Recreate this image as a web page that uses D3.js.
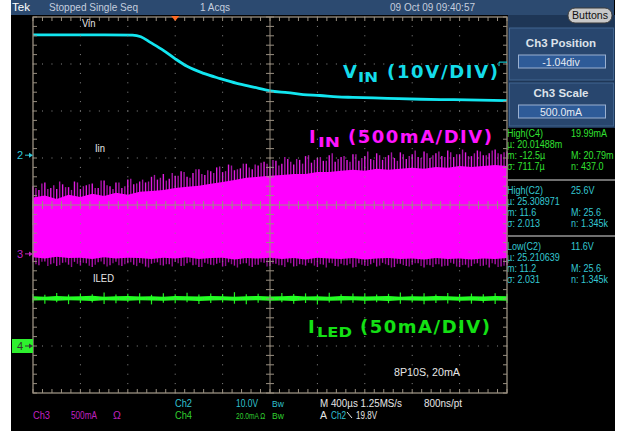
<!DOCTYPE html>
<html>
<head>
<meta charset="utf-8">
<script src="https://cdn.jsdelivr.net/npm/d3@7"></script>
<style>
  html, body { margin: 0; padding: 0; background: #fff; }
  svg { display: block; }
  text { font-family: "Liberation Sans", Arial, sans-serif; }
  .big { font-family: "DejaVu Sans", Verdana, sans-serif; font-weight: bold; }
</style>
</head>
<body>
<svg id="scope" width="622" height="432"></svg>
<script>
// Scope capture: Vin step down, Iin switching band, ILED
// time in ms (trigger at 0), Vin in V, currents in mA

var vinT = [-1.2, -0.6, -0.36, -0.29, -0.21, -0.1, 0, 0.1, 0.24, 0.38, 0.52, 0.66, 0.8,
            0.95, 1.08, 1.22, 1.37, 1.5, 1.79, 2.07, 2.35, 2.8];
var vinV = [25.6, 25.6, 25.55, 25.2, 24.0, 22.3, 20.5, 18.9, 17.4, 16.3, 15.3, 14.5, 13.7,
            13.3, 12.9, 12.7, 12.4, 12.3, 12.1, 11.9, 11.8, 11.6];

// Iin band, bulk edges every 0.1 ms
var iinHi = [600, 620, 585, 630, 605, 640, 615, 650, 630, 660, 670, 680, 700, 715, 725, 745, 765, 785,
             810, 820, 830, 840, 850, 850, 870, 870, 885, 895, 885, 905, 895, 905, 915, 905, 925, 915,
             935, 925, 935, 945, 935];
var iinLo = [-35, -50, -30, -45, -40, -55, -35, -50, -40, -45, -55, -40, -50, -35, -55, -45, -40, -60,
             -45, -50, -40, -55, -45, -60, -40, -50, -55, -45, -60, -50, -45, -55, -50, -60, -45, -55,
             -50, -60, -50, -55, -45];
// Iin spikes every 0.05 ms (set A on the grid, set B half a step later)
var iinPkHi = [720, 680, 760, 700, 690, 740, 710, 770, 690, 730, 750, 700, 780, 720, 760, 700, 790, 740, 770,
               760, 820, 790, 850, 800, 830, 880, 820, 860, 900, 840, 880, 920, 870, 950, 890, 910, 960, 900, 940, 980,
               930, 990, 960, 1010, 950, 1000, 1040, 970, 1020, 990, 1050, 980, 1030, 1000, 1060, 990, 1040,
               1010, 1070, 1000, 1050, 1020, 1080, 1010, 1060, 1030, 1090, 1020, 1070, 1040, 1100, 1030,
               1060, 1080, 1040, 1100, 1050, 1070, 1110, 1060, 1090];
var iinPkLo = [-90, -120, -80, -110, -130, -95, -115, -85, -125, -100, -140, -90, -110, -120, -85, -130, -100,
               -115, -95, -135, -105, -90, -125, -110, -80, -130, -100, -120, -140, -95, -115, -105, -135, -90,
               -125, -110, -100, -140, -115, -95, -130, -105, -120, -90, -135, -110, -125, -100, -140, -115,
               -95, -130, -105, -120, -145, -100, -125, -110, -135, -95, -120, -140, -105, -130, -115, -100,
               -145, -120, -110, -135, -125, -105, -140, -115, -130, -100, -125, -145, -110, -135, -120];
var iinPkHiB = [700, 750, 690, 730, 770, 710, 680, 760, 720, 740, 700, 780, 730, 690, 760, 720, 800, 750,
                790, 770, 840, 810, 780, 860, 830, 870, 810, 900, 850, 890, 860, 930, 880, 940, 900, 960, 920, 950, 970,
                960, 1000, 940, 1030, 980, 1010, 960, 1050, 1000, 1030, 990, 1070, 1010, 1040, 980, 1060, 1020,
                1090, 1000, 1050, 1030, 1080, 990, 1060, 1040, 1100, 1020, 1070, 1050, 1090, 1030, 1080, 1060,
                1110, 1040, 1070, 1090, 1050, 1100, 1070, 1080];
var iinPkLoB = [-110, -85, -130, -100, -120, -90, -140, -105, -95, -125, -115, -80, -135, -100, -120, -110,
                -90, -130, -105, -145, -95, -120, -110, -135, -100, -125, -90, -115, -140, -105, -120, -95,
                -130, -110, -145, -100, -125, -115, -90, -135, -105, -120, -140, -100, -130, -115, -95, -125,
                -110, -145, -100, -135, -120, -105, -140, -115, -130, -95, -125, -110, -145, -105, -120, -135,
                -100, -130, -115, -140, -110, -125, -95, -135, -120, -145, -105, -130, -115, -100, -140, -125];

// ILED trace, every 0.1 ms
var iledHi = [21.2, 21.0, 21.3, 21.1, 21.2, 21.4, 21.0, 21.2, 21.3, 21.1, 21.2, 21.0, 21.3, 21.2, 21.1, 21.3,
              21.2, 21.0, 21.2, 21.3, 21.1, 21.2, 21.4, 21.1, 21.2, 21.0, 21.3, 21.2, 21.1, 21.2, 21.3, 21.0,
              21.2, 21.1, 21.3, 21.2, 21.0, 21.2, 21.1, 21.3, 21.2];
var iledLo = [19.4, 19.5, 19.3, 19.5, 19.4, 19.2, 19.5, 19.4, 19.3, 19.5, 19.4, 19.3, 19.5, 19.4, 19.2, 19.4,
              19.5, 19.3, 19.4, 19.5, 19.3, 19.4, 19.2, 19.5, 19.4, 19.3, 19.4, 19.5, 19.3, 19.4, 19.2, 19.5,
              19.4, 19.3, 19.4, 19.5, 19.3, 19.4, 19.2, 19.4, 19.3];
var iledPkHi = [22.1, 21.8, 22.6, 21.9, 22.3, 22.0, 22.8, 21.9, 22.2, 22.5, 21.8, 22.4, 22.0, 22.7, 21.9, 22.3,
                22.1, 22.9, 22.0, 22.2, 21.8, 22.6, 22.1, 22.4, 21.9, 22.7, 22.0, 22.3, 22.5, 21.9, 22.2, 22.8,
                22.0, 22.4, 21.9, 22.6, 22.1, 22.3, 22.0, 22.5, 22.2];
var iledPkLo = [18.4, 18.0, 18.6, 17.8, 18.3, 18.5, 17.9, 18.2, 18.6, 18.1, 17.7, 18.4, 18.2, 18.6, 17.9, 18.3,
                18.5, 18.0, 17.8, 18.4, 18.2, 18.6, 18.0, 18.3, 17.7, 18.5, 18.1, 18.4, 17.9, 18.6, 18.2, 18.0,
                18.5, 17.8, 18.3, 18.1, 18.6, 18.0, 18.4, 17.9, 18.3];

// texts
var headerText = ["Tek", "Stopped  Single Seq", "1 Acqs", "09 Oct 09 09:40:57"];
var measC4   = [["High(C4)", "19.99mA"], ["\u00b5: 20.01488m", ""], ["m: -12.5\u00b5", "M: 20.79m"], ["\u03c3: 711.7\u00b5", "n: 437.0"]];
var measC2hi = [["High(C2)", "25.6V"], ["\u00b5: 25.308971", ""], ["m: 11.6", "M: 25.6"], ["\u03c3: 2.013", "n: 1.345k"]];
var measC2lo = [["Low(C2)", "11.6V"], ["\u00b5: 25.210639", ""], ["m: 11.2", "M: 25.6"], ["\u03c3: 2.031", "n: 1.345k"]];

var svg = d3.select("#scope");

// time axis: 400us/div, 10 div; screen divisions -4..4
var x = d3.scaleLinear().domain([-1.2, 2.8]).range([33, 507]);
var div = d3.scaleLinear().domain([-4, 4]).range([393, 17]);

// each channel: position (div) and volts or mA per div
var yVin  = d3.scaleLinear().domain([0, 10]).range([div(1.06), div(2.06)]);
var yIin  = d3.scaleLinear().domain([0, 500]).range([div(-1.04), div(-0.04)]);
var yIled = d3.scaleLinear().domain([0, 20]).range([div(-3), div(-2)]);

var tGrid = d3.range(41).map(function (i) { return -1.2 + i * 0.1; });
var tFine = d3.range(81).map(function (i) { return -1.2 + i * 0.05; });

function say(g, px, py, str, color, size, len) {
  var t = g.append("text").attr("x", px).attr("y", py)
    .attr("fill", color).style("font-size", size + "px").text(str);
  if (len) t.attr("textLength", len).attr("lengthAdjust", "spacingAndGlyphs");
  return t;
}
function sayNarrow(g, px, py, str, color, size, sx) {
  return g.append("text")
    .attr("transform", "translate(" + px + "," + py + ") scale(" + sx + ",1)")
    .attr("fill", color).style("font-size", size + "px").text(str);
}

// screen + bars
svg.append("rect").attr("x", 11).attr("y", 0).attr("width", 604).attr("height", 431).attr("fill", "#000");
svg.append("rect").attr("x", 11).attr("y", 0).attr("width", 603).attr("height", 15).attr("fill", "#2c4a70");
svg.append("rect").attr("x", 508).attr("y", 15).attr("width", 107).attr("height", 113).attr("fill", "#1e3656");

var head = svg.append("g");
say(head, 12, 11, headerText[0], "#fff", 11, 18);
say(head, 49, 11, headerText[1], "#c4cede", 11, 89);
say(head, 200, 11, headerText[2], "#c4cede", 11, 30);
say(head, 390, 11, headerText[3], "#c4cede", 11, 85);

// Buttons button
svg.append("rect").attr("x", 568).attr("y", 8).attr("width", 44).attr("height", 15).attr("rx", 7)
  .attr("fill", "#c8c8c8").attr("stroke", "#3a3a3a").attr("stroke-width", 1);
say(svg, 572, 19, "Buttons", "#111", 10, 36);

// side panels
var panels = [{ y: 28, h: 52, title: "Ch3 Position", value: "-1.04div", ty: 47, vy: 55 },
              { y: 83, h: 43, title: "Ch3 Scale", value: "500.0mA", ty: 97, vy: 105 }];
panels.forEach(function (p) {
  svg.append("rect").attr("x", 509.5).attr("y", p.y).attr("width", 104).attr("height", p.h)
    .attr("fill", "#28466e").attr("stroke", "#41648f");
  svg.append("text").attr("x", 561).attr("y", p.ty).attr("text-anchor", "middle")
    .attr("fill", "#dde2ea").style("font-weight", "bold").style("font-size", "11.5px").text(p.title);
  svg.append("rect").attr("x", 518.5).attr("y", p.vy).attr("width", 87).attr("height", 13)
    .attr("fill", "#2e5b98").attr("stroke", "#9ab0d0");
  svg.append("text").attr("x", 561).attr("y", p.vy + 10.5).attr("text-anchor", "middle")
    .attr("fill", "#e8ecf2").style("font-size", "10.5px").text(p.value);
});

// measurements
var meas = svg.append("g");
[[measC4, 137, "#32e032"], [measC2hi, 194, "#34c8d2"], [measC2lo, 250, "#34c8d2"]].forEach(function (b) {
  b[0].forEach(function (row, i) {
    sayNarrow(meas, 507, b[1] + i * 11, row[0], b[2], 11, 0.82);
    if (row[1]) sayNarrow(meas, 571, b[1] + i * 11, row[1], b[2], 11, 0.82);
  });
});
[180, 236].forEach(function (yy) {
  meas.append("line").attr("x1", 508).attr("x2", 615).attr("y1", yy).attr("y2", yy)
    .attr("stroke", "#e0e0e0").attr("stroke-width", 1);
});

// traces
var traces = svg.append("g");

traces.append("path").datum(vinV)
  .attr("d", d3.line().x(function (d, i) { return x(vinT[i]); }).y(function (d) { return yVin(d); })
    .curve(d3.curveMonotoneX))
  .attr("fill", "none").attr("stroke", "#12e6f0").attr("stroke-width", 2.8);

function spikes(vals, offset, color) {
  traces.append("g").selectAll("line").data(vals).join("line")
    .attr("x1", function (d, i) { return x(tFine[i] + offset); })
    .attr("x2", function (d, i) { return x(tFine[i] + offset); })
    .attr("y1", yIin(300)).attr("y2", function (d) { return yIin(d); })
    .attr("stroke", color).attr("stroke-width", 1.4);
}
spikes(iinPkHiB, 0.025, "#a414a4");
spikes(iinPkLoB, 0.025, "#8c0c8c");
spikes(iinPkHi, 0, "#e01ce0");
spikes(iinPkLo, 0, "#b012b0");
traces.append("path").datum(iinHi)
  .attr("d", d3.area().x(function (d, i) { return x(tGrid[i]); })
    .y0(function (d, i) { return yIin(iinLo[i]); }).y1(function (d) { return yIin(d); }))
  .attr("fill", "#ff00ff");

traces.append("g").selectAll("line").data(iledPkHi).join("line")
  .attr("x1", function (d, i) { return x(tGrid[i]); }).attr("x2", function (d, i) { return x(tGrid[i]); })
  .attr("y1", function (d, i) { return yIled(iledPkLo[i]); }).attr("y2", function (d) { return yIled(d); })
  .attr("stroke", "#22ee22").attr("stroke-width", 1.2);
traces.append("path").datum(iledHi)
  .attr("d", d3.area().x(function (d, i) { return x(tGrid[i]); })
    .y0(function (d, i) { return yIled(iledLo[i]); }).y1(function (d) { return yIled(d); }))
  .attr("fill", "#22ff22");

// graticule on top of the traces
var grid = svg.append("g");
var gridCol = "#998f80";
var majT = d3.range(11).map(function (k) { return -1.2 + k * 0.4; });
var majD = d3.range(9).map(function (k) { return -4 + k; });
var minT = d3.range(51).map(function (k) { return -1.2 + k * 0.08; });
var minD = d3.range(41).map(function (k) { return -4 + k * 0.2; });

majT.slice(1, 10).forEach(function (t, k) {
  if (k === 4) return;
  minD.forEach(function (d) {
    grid.append("rect").attr("x", x(t) - 0.5).attr("y", div(d) - 0.5).attr("width", 1).attr("height", 1)
      .attr("fill", "#8a8a8a");
  });
});
majD.slice(1, 8).forEach(function (d, k) {
  if (k === 3) return;
  minT.forEach(function (t) {
    grid.append("rect").attr("x", x(t) - 0.5).attr("y", div(d) - 0.5).attr("width", 1).attr("height", 1)
      .attr("fill", "#8a8a8a");
  });
});

// center cross with ticks
grid.append("line").attr("x1", x(0.8)).attr("x2", x(0.8)).attr("y1", div(-4)).attr("y2", div(4))
  .attr("stroke", gridCol).attr("stroke-width", 1);
grid.append("line").attr("x1", x(-1.2)).attr("x2", x(2.8)).attr("y1", div(0)).attr("y2", div(0))
  .attr("stroke", gridCol).attr("stroke-width", 1);
minD.forEach(function (d) {
  grid.append("line").attr("x1", x(0.8) - 4).attr("x2", x(0.8) + 4).attr("y1", div(d)).attr("y2", div(d))
    .attr("stroke", gridCol);
  grid.append("line").attr("x1", x(-1.2)).attr("x2", x(-1.2) + 4).attr("y1", div(d)).attr("y2", div(d))
    .attr("stroke", gridCol);
  grid.append("line").attr("x1", x(2.8) - 4).attr("x2", x(2.8)).attr("y1", div(d)).attr("y2", div(d))
    .attr("stroke", gridCol);
});
minT.forEach(function (t) {
  grid.append("line").attr("x1", x(t)).attr("x2", x(t)).attr("y1", div(0) - 4).attr("y2", div(0) + 4)
    .attr("stroke", gridCol);
  grid.append("line").attr("x1", x(t)).attr("x2", x(t)).attr("y1", div(4)).attr("y2", div(4) + 4)
    .attr("stroke", gridCol);
  grid.append("line").attr("x1", x(t)).attr("x2", x(t)).attr("y1", div(-4) - 4).attr("y2", div(-4))
    .attr("stroke", gridCol);
});
grid.append("rect").attr("x", x(-1.2)).attr("y", div(4)).attr("width", x(2.8) - x(-1.2))
  .attr("height", div(-4) - div(4)).attr("fill", "none").attr("stroke", gridCol).attr("stroke-width", 1.3);

// trigger position and level markers
svg.append("path").attr("d", "M" + (x(0) - 4) + ",16L" + (x(0) + 4) + ",16L" + x(0) + ",21Z").attr("fill", "#ff6a22");
svg.append("path").attr("d", "M499," + (yVin(19.8) + 4) + "V" + yVin(19.8) + "H507")
  .attr("fill", "none").attr("stroke", "#12e6f0").attr("stroke-width", 1);

// channel ground markers
function marker(level, label, textColor, boxed) {
  var g = svg.append("g");
  if (boxed) g.append("rect").attr("x", 12).attr("y", level - 7).attr("width", 21).attr("height", 14).attr("fill", "#2ef02e");
  say(g, 17, level + 4, label, textColor, 11);
  g.append("line").attr("x1", 25).attr("x2", 31).attr("y1", level).attr("y2", level).attr("stroke", textColor);
  g.append("path").attr("d", "M29," + (level - 2.5) + "L33," + level + "L29," + (level + 2.5) + "Z").attr("fill", textColor);
}
marker(div(1.06), "2", "#30c8d8", false);
marker(div(-1.04), "3", "#c020c0", false);
marker(div(-3), "4", "#333", true);

// trace names
var names = svg.append("g");
sayNarrow(names, 82, 27, "Vin", "#e6e6e6", 10.5, 0.9);
sayNarrow(names, 95, 152, "Iin", "#e6e6e6", 10.5, 0.9);
sayNarrow(names, 93, 282, "ILED", "#e6e6e6", 10.5, 0.9);

// big annotations
function bigLabel(px, py, main, sub, subW, rest, restX, restW, color) {
  var g = svg.append("g").attr("fill", color);
  g.append("text").attr("class", "big").attr("x", px).attr("y", py).style("font-size", "18px").text(main);
  g.append("text").attr("class", "big").attr("x", px + (main === "V" ? 15 : 9)).attr("y", py + 4)
    .style("font-size", "14.5px").attr("textLength", subW).attr("lengthAdjust", "spacingAndGlyphs").text(sub);
  g.append("text").attr("class", "big").attr("x", restX).attr("y", py).style("font-size", "18px")
    .attr("textLength", restW).attr("lengthAdjust", "spacing").text(rest);
}
bigLabel(343, 78, "V", "IN", 20, "(10V/DIV)", 387, 111, "#14dcea");
bigLabel(309, 143, "I", "IN", 22, "(500mA/DIV)", 348, 144, "#ff14ff");
bigLabel(308, 333, "I", "LED", 35, "(50mA/DIV)", 360, 130, "#14e014");

// status line
var stat = svg.append("g");
say(stat, 394, 376, "8P10S, 20mA", "#e6e6e6", 10.5, 66);
say(stat, 175, 407, "Ch2", "#30c0d0", 10.5, 17);
say(stat, 236, 407, "10.0V", "#30c0d0", 10.5, 22);
say(stat, 272, 407, "Bw", "#30c0d0", 8.5);
say(stat, 320, 407, "M 400\u00b5s 1.25MS/s", "#e6e6e6", 10.5, 82);
say(stat, 424, 407, "800ns/pt", "#e6e6e6", 10.5, 38);
say(stat, 33, 419, "Ch3", "#c020c0", 10.5, 17);
say(stat, 71, 419, "500mA", "#c020c0", 10.5, 26);
say(stat, 113, 419, "\u03a9", "#c020c0", 10.5);
say(stat, 175, 419, "Ch4", "#30d030", 10.5, 17);
sayNarrow(stat, 236, 419, "20.0mA \u03a9", "#30d030", 9.5, 0.7);
say(stat, 272, 419, "Bw", "#30d030", 8.5);
say(stat, 320, 419, "A", "#e6e6e6", 10.5);
say(stat, 331, 419, "Ch2", "#30c0d0", 10.5, 15);
stat.append("line").attr("x1", 347).attr("y1", 412).attr("x2", 352).attr("y2", 418).attr("stroke", "#e6e6e6");
say(stat, 356, 419, "19.8V", "#e6e6e6", 10.5, 21);
</script>
</body>
</html>
